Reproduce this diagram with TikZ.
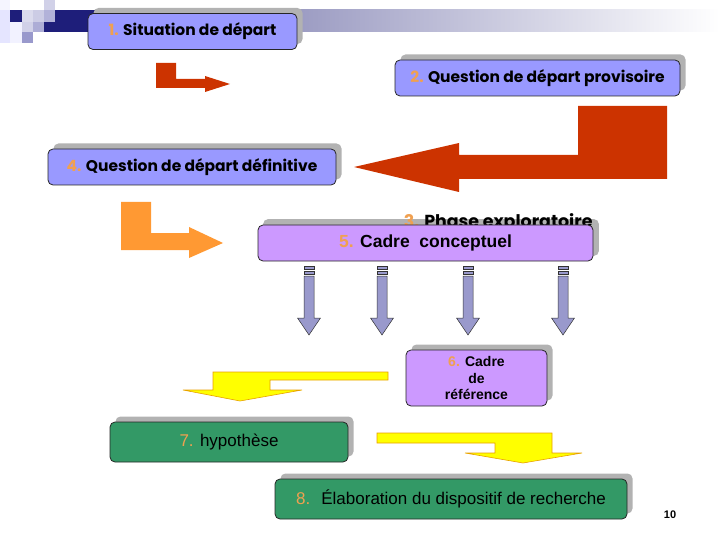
\documentclass[tikz,border=0pt]{standalone}
\usepackage{fontspec}
\setmainfont{Liberation Sans}
\newfontfamily\comicfont{Poppins}
\usepackage{xcolor}
\usetikzlibrary{positioning,shadows,backgrounds}
\definecolor{boxblue}{HTML}{9999FF}
\definecolor{boxpurple}{HTML}{CC99FF}
\definecolor{boxgreen}{HTML}{339966}
\definecolor{numorange}{HTML}{F0A050}
\definecolor{redarrow}{HTML}{CC3300}
\definecolor{orangearrow}{HTML}{FF9933}
\definecolor{yellowarrow}{HTML}{FFFF00}
\definecolor{yellowedge}{HTML}{E8A000}
\definecolor{downarrow}{HTML}{9999CC}
\definecolor{shadowgrey}{HTML}{B2B2B2}
\definecolor{navy}{HTML}{1E1E7A}
\newcommand{\nr}[1]{\textcolor{numorange}{#1}}

\begin{document}
\begin{tikzpicture}[x=1pt,y=-1pt,
  box/.style={draw=black!85,line width=0.8pt,rounded corners=5pt,inner sep=0pt,align=center,text=black},
  shadowed/.style={drop shadow={shadow xshift=5.5pt,shadow yshift=5.5pt,fill=shadowgrey,opacity=1}},
  bluebox/.style={box,shadowed,fill=boxblue,minimum height=36pt,font=\comicfont\bfseries\fontsize{15.5}{18}\selectfont},
  purplebox/.style={box,fill=boxpurple},
  greenbox/.style={box,shadowed,fill=boxgreen,minimum height=40pt,font=\fontsize{17}{20}\selectfont},
  blockarrow/.style={fill=#1,draw=none},
  yellowblock/.style={fill=yellowarrow,draw=yellowedge,line width=0.6pt},
  downblock/.style={fill=downarrow,draw=black!80,line width=0.5pt}]
\useasboundingbox (0,0) rectangle (720,540);

% corner squares and title bar
\fill[navy] (44,10) rectangle (96,32);
\shade[left color=black!10!downarrow!85,right color=white] (295,10) rectangle (720,32);
\fill[blue!4] (0,0) rectangle (10,10);
\fill[blue!10] (0,10) rectangle (10,43);
\fill[navy] (10,10) rectangle (22,22);
\fill[blue!5] (10,22) rectangle (22,43);
\fill[downarrow!35] (22,10) rectangle (33,22);
\fill[downarrow!50] (33,10) rectangle (44,22);
\fill[downarrow!45] (44,0) rectangle (55,10);
\fill[downarrow!75] (44,10) rectangle (55,22);
\fill[downarrow!45] (22,22) rectangle (33,32);
\fill[downarrow!80] (33,22) rectangle (44,32);
\fill[downarrow] (22,32) rectangle (33,43);

% boxes
\node[bluebox,minimum width=209pt] (s1) at (192.5,31.5) {\nr{1.} Situation de départ};
\node[bluebox,minimum width=285pt] (s2) at (537.5,78) {\nr{2.} Question de départ provisoire};
\node[bluebox,minimum width=288pt] (s4) at (192,167) {\nr{4.} Question de départ définitive};

\node[anchor=base east,font=\comicfont\bfseries\fontsize{17.4}{20}\selectfont] (s3) at (596,227.5) {\nr{3.} Phase exploratoire};
\node[purplebox,minimum width=335pt,minimum height=36pt,font=\bfseries\fontsize{17.5}{20}\selectfont] (s5) at (425.5,243) {\nr{5.} Cadre~ conceptuel};
\begin{scope}[on background layer]
\fill[shadowgrey,rounded corners=5pt] ([shift={(5.5,-5.5)}]s5.south west) rectangle ([shift={(5.5,-5.5)}]s5.north east);
\end{scope}

\node[purplebox,shadowed,minimum width=141pt,minimum height=56pt,font=\bfseries\fontsize{14}{16.5}\selectfont] (s6) at (476.5,378) {\nr{6.} Cadre\\de\\référence};
\node[greenbox,minimum width=238pt] (s7) at (229,442) {\nr{7.} hypothèse};
\node[greenbox,minimum width=352pt] (s8) at (451,499) {\nr{8.}~ Élaboration du dispositif de recherche};

\node[font=\bfseries\fontsize{11}{13}\selectfont] (page) at (670,515) {10};

% block arrows
\fill[blockarrow=redarrow] (156,63) -- (176,63) -- (176,79) -- (205,79) -- (205,76) -- (230,84) -- (205,92) -- (205,88) -- (156,88) -- cycle;
\fill[blockarrow=redarrow] (578,106) -- (667,106) -- (667,179) -- (459,179) -- (459,192) -- (354,167) -- (459,143) -- (459,155) -- (578,155) -- cycle;
\fill[blockarrow=orangearrow] (121,202) -- (151,202) -- (151,233) -- (189,233) -- (189,227) -- (223,243) -- (189,258) -- (189,250) -- (121,250) -- cycle;

\foreach \ax in {309,382,468,563}{
  \draw[downblock] (\ax-5,266.5) rectangle (\ax+5,269);
  \draw[downblock] (\ax-5,271) rectangle (\ax+5,274);
  \draw[downblock] (\ax-5,276) -- (\ax+5,276) -- (\ax+5,318) -- (\ax+11.5,318) -- (\ax,335) -- (\ax-11.5,318) -- (\ax-5,318) -- cycle;
}

\draw[yellowblock] (388,372) -- (213,372) -- (213,390) -- (183,390) -- (240,401) -- (302,390) -- (270,390) -- (270,380) -- (388,380) -- cycle;
\draw[yellowblock] (377,433) -- (552,433) -- (552,453) -- (582,453) -- (523,463) -- (465,453) -- (495,453) -- (495,443) -- (377,443) -- cycle;
\end{tikzpicture}
\end{document}
